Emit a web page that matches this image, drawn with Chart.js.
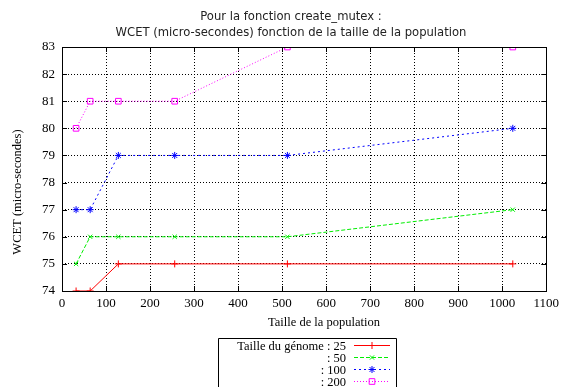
<!DOCTYPE html>
<html>
<head>
<meta charset="utf-8">
<script src="https://cdn.jsdelivr.net/npm/chart.js@4/dist/chart.umd.min.js"></script>
<style>
  html, body { margin: 0; padding: 0; background: #fff; }
  #wrap { width: 564px; height: 387px; }
</style>
</head>
<body>
<div id="wrap"><canvas id="chart-wcet"></canvas></div>
<script>
// Données
const populations = [32, 64, 128, 256, 512, 1024];
const wcet25 = [74, 74, 75, 75, 75, 75];
const wcet50 = [75, 76, 76, 76, 76, 77];
const wcet100 = [77, 77, 79, 79, 79, 80];
const wcet200 = [80, 81, 81, 81, 83, 83];
const legendLabels = ['Taille du génome : 25', ': 50', ': 100', ': 200'];
const xTicks = [0, 100, 200, 300, 400, 500, 600, 700, 800, 900, 1000, 1100];
const yTicks = [74, 75, 76, 77, 78, 79, 80, 81, 82, 83];
const titreLignes = ['Pour la fonction create_mutex :', 'WCET (micro-secondes) fonction de la taille de la population'];
const titreX = 'Taille de la population';
const titreY = 'WCET (micro-secondes)';

const serif = '"Liberation Serif", "Times New Roman", serif';
const sans = '"DejaVu Sans", sans-serif';

function toPoints(values) {
    return populations.map((p, i) => ({ x: p, y: values[i] }));
}

function serie(label, values, color, style, dash, radius) {
    return {
        label: label,
        data: toPoints(values),
        borderColor: color,
        backgroundColor: 'rgba(0,0,0,0)',
        borderWidth: 1,
        borderDash: dash,
        pointStyle: style,
        pointRadius: radius,
        pointBorderColor: color,
        pointBackgroundColor: 'rgba(0,0,0,0)',
        pointBorderWidth: 1,
        tension: 0
    };
}

// Cadre, petites graduations, titres et légende façon gnuplot
const gnuplotDeco = {
    id: 'gnuplotDeco',
    afterDatasetsDraw(chart) {
        const ctx = chart.ctx;
        const a = chart.chartArea;
        const xs = chart.scales.x;
        const ys = chart.scales.y;
        ctx.save();
        ctx.strokeStyle = '#000';
        ctx.lineWidth = 1;
        ctx.setLineDash([]);
        ctx.beginPath();
        xTicks.forEach(v => {
            const px = Math.round(xs.getPixelForValue(v)) + 0.5;
            ctx.moveTo(px, a.bottom); ctx.lineTo(px, a.bottom - 5);
            ctx.moveTo(px, a.top); ctx.lineTo(px, a.top + 5);
        });
        yTicks.forEach(v => {
            const py = Math.round(ys.getPixelForValue(v)) + 0.5;
            ctx.moveTo(a.left, py); ctx.lineTo(a.left + 5, py);
            ctx.moveTo(a.right, py); ctx.lineTo(a.right - 5, py);
        });
        ctx.stroke();
        ctx.strokeRect(Math.round(a.left) + 0.5, Math.round(a.top) + 0.5,
            Math.round(a.right - a.left), Math.round(a.bottom - a.top));
        ctx.restore();
    },
    afterDraw(chart) {
        const ctx = chart.ctx;
        ctx.save();
        // titre
        ctx.fillStyle = '#222';
        ctx.textAlign = 'center';
        ctx.textBaseline = 'middle';
        ctx.font = '11.6px ' + sans;
        ctx.fillText(titreLignes[0], 291, 17);
        ctx.fillText(titreLignes[1], 291, 32.5);
        // titres des axes
        ctx.fillStyle = '#000';
        ctx.font = '12.5px ' + serif;
        ctx.fillText(titreX, 324, 323);
        ctx.save();
        ctx.translate(18, 192);
        ctx.rotate(-Math.PI / 2);
        ctx.fillText(titreY, 0, 0);
        ctx.restore();

        // légende
        const boxLeft = 218.5, boxRight = 396.5, boxTop = 338.5;
        const textRight = 346, lineStart = 354, lineEnd = 390;
        const rowY = [345.5, 357.5, 369.5, 381.5];
        ctx.strokeStyle = '#000';
        ctx.lineWidth = 1;
        ctx.setLineDash([]);
        ctx.beginPath();
        ctx.moveTo(boxLeft, 392);
        ctx.lineTo(boxLeft, boxTop);
        ctx.lineTo(boxRight, boxTop);
        ctx.lineTo(boxRight, 392);
        ctx.stroke();
        ctx.font = '12.5px ' + serif;
        ctx.textAlign = 'right';
        chart.data.datasets.forEach((ds, i) => {
            const y = rowY[i];
            ctx.fillStyle = '#000';
            ctx.fillText(legendLabels[i], textRight, y + 1);
            ctx.strokeStyle = ds.borderColor;
            ctx.lineWidth = 1;
            ctx.setLineDash(ds.borderDash);
            ctx.beginPath();
            ctx.moveTo(lineStart, y);
            ctx.lineTo(lineEnd, y);
            ctx.stroke();
            ctx.setLineDash([]);
            ctx.fillStyle = 'rgba(0,0,0,0)';
            Chart.helpers.drawPoint(ctx, {
                pointStyle: ds.pointStyle,
                radius: ds.pointRadius,
                rotation: 0,
                borderWidth: 1
            }, (lineStart + lineEnd) / 2, y);
        });
        ctx.restore();
    }
};

const ctx = document.getElementById('chart-wcet').getContext('2d');
const wcetChart = new Chart(ctx, {
    type: 'line',
    data: {
        datasets: [
            serie(legendLabels[0], wcet25, '#ff0000', 'cross', [], 3.5),
            serie(legendLabels[1], wcet50, '#00ee00', 'crossRot', [4, 2], 3),
            serie(legendLabels[2], wcet100, '#0000ff', 'star', [2, 3], 3.5),
            serie(legendLabels[3], wcet200, '#ff00ff', 'rect', [1, 2], 4)
        ]
    },
    options: {
        responsive: true,
        maintainAspectRatio: false,
        animation: false,
        layout: { padding: { top: 47, right: 12, bottom: 56, left: 0 } },
        plugins: {
            legend: { display: false },
            tooltip: { enabled: false },
            title: { display: false }
        },
        scales: {
            x: {
                type: 'linear',
                min: 0,
                max: 1100,
                afterBuildTicks: (s) => { s.ticks = xTicks.map(v => ({ value: v })); },
                afterFit: (s) => { s.height = 40; },
                border: { display: false, dash: [1, 2] },
                grid: { color: '#000', drawTicks: false, lineWidth: 1 },
                ticks: { color: '#000', padding: 5, maxRotation: 0, font: { family: serif, size: 13 }, callback: v => String(v) }
            },
            y: {
                min: 74,
                max: 83,
                afterBuildTicks: (s) => { s.ticks = yTicks.map(v => ({ value: v })); },
                afterFit: (s) => { s.width = 62; },
                border: { display: false, dash: [1, 2] },
                grid: { color: '#000', drawTicks: false, lineWidth: 1 },
                ticks: { color: '#000', padding: 7, font: { family: serif, size: 13 }, callback: v => String(v) }
            }
        }
    },
    plugins: [gnuplotDeco]
});
</script>
</body>
</html>
